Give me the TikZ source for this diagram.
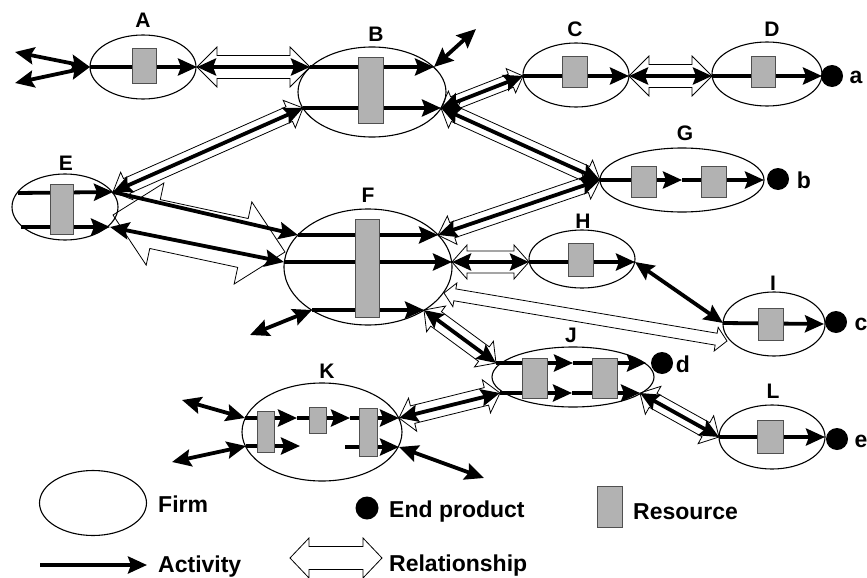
\documentclass[tikz,border=0pt]{standalone}
\usepackage{fontspec}
\setmainfont{Liberation Sans}
\usetikzlibrary{arrows.meta,calc,shapes.geometric}

\tikzset{
 firm/.style={ellipse, draw, line width=1.1pt, inner sep=0pt, outer sep=0pt},
 res/.style={rectangle, draw={rgb,255:red,80;green,80;blue,80}, line width=0.8pt, fill={rgb,255:red,178;green,178;blue,178}, inner sep=0pt, outer sep=0pt},
 prod/.style={circle, fill=black, inner sep=0pt, minimum size=22pt},
 lab/.style={font=\bfseries\fontsize{21}{21}\selectfont, anchor=base, inner sep=0pt},
 plab/.style={font=\bfseries\fontsize{23}{23}\selectfont, anchor=base, inner sep=0pt},
 leg/.style={font=\bfseries\fontsize{23}{23}\selectfont, anchor=base west, inner sep=0pt},
 tipA/.tip={Stealth[length=19pt,width=17pt,inset=3pt]},
 act/.style={line width=3.8pt, -tipA},
 actd/.style={line width=3.8pt, tipA-tipA},
 rel/.style={draw, fill=white, line width=0.8pt, line join=miter},
}

\newcommand\relarrow[5]{%
 \coordinate (rtmpA) at ($(#1)!#5!(#2)$);
 \coordinate (rtmpB) at ($(#2)!#5!(#1)$);
 \draw[rel] (#1) -- ($(rtmpA)!#4!90:(#2)$) -- ($(rtmpA)!#3!90:(#2)$)
   -- ($(rtmpB)!#3!-90:(#1)$) -- ($(rtmpB)!#4!-90:(#1)$) -- (#2)
   -- ($(rtmpB)!#4!90:(#1)$) -- ($(rtmpB)!#3!90:(#1)$)
   -- ($(rtmpA)!#3!-90:(#2)$) -- ($(rtmpA)!#4!-90:(#2)$) -- cycle;
}

\begin{document}
\begin{tikzpicture}[x=1pt,y=-1pt]
\useasboundingbox (0,0) rectangle (867,578);

% ports
\coordinate (Ain1) at (15,52);
\coordinate (Ain2) at (15,83);
\coordinate (Aw) at (90,67);
\coordinate (Ae) at (197,67);
\coordinate (Bw1) at (310,67);
\coordinate (Be1) at (434,67);
\coordinate (Bout) at (476,29);
\coordinate (Bw2) at (303,108);
\coordinate (Be2) at (441,108);
\coordinate (Cw) at (523,76);
\coordinate (Ce) at (629,76);
\coordinate (Dw) at (712,76);
\coordinate (De) at (822,76);
\coordinate (Ew1) at (18,193);
\coordinate (Ee1) at (113,192);
\coordinate (Ew2) at (21,227);
\coordinate (Ee2) at (110,227);
\coordinate (Fw1) at (298,235);
\coordinate (Fe1) at (438,235);
\coordinate (Fw2) at (284,262);
\coordinate (Fe2) at (452,262);
\coordinate (Fw3) at (312,310);
\coordinate (Fe3) at (424,310);
\coordinate (Fout) at (250,335);
\coordinate (Gw) at (600,180);
\coordinate (Gm) at (682,180);
\coordinate (Ge) at (764,180);
\coordinate (Hw) at (529,262);
\coordinate (He) at (635,262);
\coordinate (Iw) at (723,323);
\coordinate (Ie) at (824,324);
\coordinate (Jw1) at (496,363);
\coordinate (Jm1) at (573,363);
\coordinate (Je1) at (646,363);
\coordinate (Jw2) at (500,393);
\coordinate (Jm2) at (572,393);
\coordinate (Je2) at (640,393);
\coordinate (Kw1) at (245,418);
\coordinate (Km1) at (297,418);
\coordinate (Km2) at (350,418);
\coordinate (Ke1) at (399,418);
\coordinate (Kw2) at (246,446);
\coordinate (Kl2) at (300,446);
\coordinate (Kr2) at (345,447);
\coordinate (Ke2) at (399,447);
\coordinate (Kin1) at (182,400);
\coordinate (Kin2) at (172,462);
\coordinate (Kout) at (484,478);
\coordinate (Lw) at (719,437);
\coordinate (Le) at (825,437);
\coordinate (EFa) at (113,215);
\coordinate (EFb) at (285,252);
\coordinate (FIa) at (444,293);
\coordinate (FIb) at (727,341);
\coordinate (RLa) at (290,558);
\coordinate (RLb) at (382,558);
\coordinate (ACa) at (40,565);
\coordinate (ACb) at (147,565);

% relationships
\relarrow{Ae}{Bw1}{11.5pt}{20pt}{20pt}
\relarrow{Ce}{Dw}{11.5pt}{20pt}{20pt}
\relarrow{Be2}{Cw}{7pt}{13pt}{13pt}
\relarrow{Be2}{Gw}{8pt}{15pt}{15pt}
\relarrow{Ee1}{Bw2}{8pt}{15pt}{15pt}
\relarrow{Gw}{Fe1}{8pt}{15pt}{15pt}
\relarrow{Fe2}{Hw}{11pt}{17pt}{15pt}
\relarrow{Fe3}{Jw1}{9pt}{16pt}{15pt}
\relarrow{Ke1}{Jw2}{9pt}{17pt}{14pt}
\relarrow{Je2}{Lw}{8pt}{16pt}{15pt}
\relarrow{EFa}{EFb}{25pt}{42pt}{43pt}
\relarrow{FIa}{FIb}{6pt}{12pt}{11pt}
\relarrow{RLa}{RLb}{11.5pt}{20pt}{19pt}

% firms
\node[firm, minimum width=106pt, minimum height=64pt] (A) at (143,67) {};
\node[firm, minimum width=148pt, minimum height=90pt] (B) at (372,92) {};
\node[firm, minimum width=106pt, minimum height=64pt] (C) at (576,75) {};
\node[firm, minimum width=110pt, minimum height=64pt] (D) at (767,74) {};
\node[firm, minimum width=106pt, minimum height=66pt] (E) at (65,207) {};
\node[firm, minimum width=168pt, minimum height=116pt] (F) at (368,267) {};
\node[firm, minimum width=164pt, minimum height=64pt] (G) at (682,180) {};
\node[firm, minimum width=106pt, minimum height=58pt] (H) at (582,259) {};
\node[firm, minimum width=102pt, minimum height=64pt] (I) at (774,324) {};
\node[firm, minimum width=162pt, minimum height=60pt] (J) at (573,377) {};
\node[firm, minimum width=160pt, minimum height=98pt] (K) at (322,432) {};
\node[firm, minimum width=106pt, minimum height=64pt] (L) at (772,437) {};
\node[firm, minimum width=107pt, minimum height=65pt] (legF) at (93,503) {};

% activities between firms
\draw[actd] (Ain1) -- (Aw);
\draw[actd] (Ain2) -- (Aw);
\draw[actd] (Ae) -- (Bw1);
\draw[actd] (Be1) -- (Bout);
\draw[actd] (Be2) -- (Cw);
\draw[actd] (Ce) -- (Dw);
\draw[actd] (Be2) -- (Gw);
\draw[actd] (Ee1) -- (Bw2);
\draw[act] (Ee1) -- (Fw1);
\draw[actd] (Ee2) -- (Fw2);
\draw[actd] (Gw) -- (Fe1);
\draw[actd] (Fe2) -- (Hw);
\draw[actd] (He) -- (Iw);
\draw[actd] (Fe3) -- (Jw1);
\draw[actd] (Fout) -- (Fw3);
\draw[actd] (Ke1) -- (Jw2);
\draw[actd] (Je2) -- (Lw);
\draw[actd] (Kin1) -- (Kw1);
\draw[actd] (Kin2) -- (Kw2);
\draw[actd] (Ke2) -- (Kout);

% activities inside firms
\draw[act] (Aw) -- (Ae);
\draw[act] (Bw1) -- (Be1);
\draw[act] (Bw2) -- (Be2);
\draw[act] (Cw) -- (Ce);
\draw[act] (Dw) -- (De);
\draw[act] (Ew1) -- (Ee1);
\draw[act] (Ew2) -- (Ee2);
\draw[act] (Fw1) -- (Fe1);
\draw[act] (Fw2) -- (Fe2);
\draw[act] (Fw3) -- (Fe3);
\draw[act] (Gw) -- (Gm);
\draw[act] (Gm) -- (Ge);
\draw[act] (Hw) -- (He);
\draw[act] (Iw) -- (Ie);
\draw[act] (Jw1) -- (Jm1);
\draw[act] (Jm1) -- (Je1);
\draw[act] (Jw2) -- (Jm2);
\draw[act] (Jm2) -- (Je2);
\draw[act] (Kw1) -- (Km1);
\draw[act] (Km1) -- (Km2);
\draw[act] (Km2) -- (Ke1);
\draw[act] (Kw2) -- (Kl2);
\draw[act] (Kr2) -- (Ke2);
\draw[act] (Lw) -- (Le);
\draw[act] (ACa) -- (ACb);

% resources
\node[res, minimum width=24pt, minimum height=35pt] (rA) at (144,66) {};
\node[res, minimum width=25pt, minimum height=66pt] (rB) at (371,90) {};
\node[res, minimum width=25pt, minimum height=31pt] (rC) at (575,72) {};
\node[res, minimum width=24pt, minimum height=31pt] (rD) at (763,72) {};
\node[res, minimum width=23pt, minimum height=50pt] (rE) at (62,209) {};
\node[res, minimum width=24pt, minimum height=98pt] (rF) at (367,268) {};
\node[res, minimum width=25pt, minimum height=31pt] (rG1) at (644,182) {};
\node[res, minimum width=25pt, minimum height=31pt] (rG2) at (714,182) {};
\node[res, minimum width=25pt, minimum height=33pt] (rH) at (581,260) {};
\node[res, minimum width=25pt, minimum height=32pt] (rI) at (771,324) {};
\node[res, minimum width=25pt, minimum height=40pt] (rJ1) at (535,378) {};
\node[res, minimum width=25pt, minimum height=40pt] (rJ2) at (605,378) {};
\node[res, minimum width=17pt, minimum height=41pt] (rK1) at (266,432) {};
\node[res, minimum width=17pt, minimum height=26pt] (rK2) at (318,420) {};
\node[res, minimum width=18pt, minimum height=48pt] (rK3) at (368,432) {};
\node[res, minimum width=26pt, minimum height=33pt] (rL) at (770,437) {};
\node[res, minimum width=25pt, minimum height=41pt] (legR) at (610,507) {};

% end products
\node[prod] (pa) at (832,76) {};
\node[prod] (pb) at (778,179) {};
\node[prod] (pc) at (836,322) {};
\node[prod] (pd) at (662,363) {};
\node[prod] (pe) at (837,439) {};
\node[prod, minimum size=23pt] (legP) at (367,508) {};

% labels
\node[lab] (lA) at (143,28) {A};
\node[lab] (lB) at (376,42) {B};
\node[lab] (lC) at (575,37) {C};
\node[lab] (lD) at (772,37) {D};
\node[lab] (lE) at (66,170) {E};
\node[lab] (lF) at (368,202) {F};
\node[lab] (lG) at (685,140) {G};
\node[lab] (lH) at (583,228) {H};
\node[lab] (lI) at (773,290) {I};
\node[lab] (lJ) at (571,342) {J};
\node[lab] (lK) at (327,378) {K};
\node[lab] (lL) at (773,398) {L};
\node[plab] (la) at (856,83) {a};
\node[plab] (lb) at (804,188) {b};
\node[plab] (lc) at (861,330) {c};
\node[plab] (ld) at (683,372) {d};
\node[plab] (le) at (861,447) {e};

% legend texts
\node[leg] (tFirm) at (158,512) {Firm};
\node[leg] (tAct) at (158,572) {Activity};
\node[leg] (tEnd) at (389,517) {End product};
\node[leg] (tRes) at (633,519) {Resource};
\node[leg] (tRel) at (389,571) {Relationship};
\end{tikzpicture}
\end{document}
